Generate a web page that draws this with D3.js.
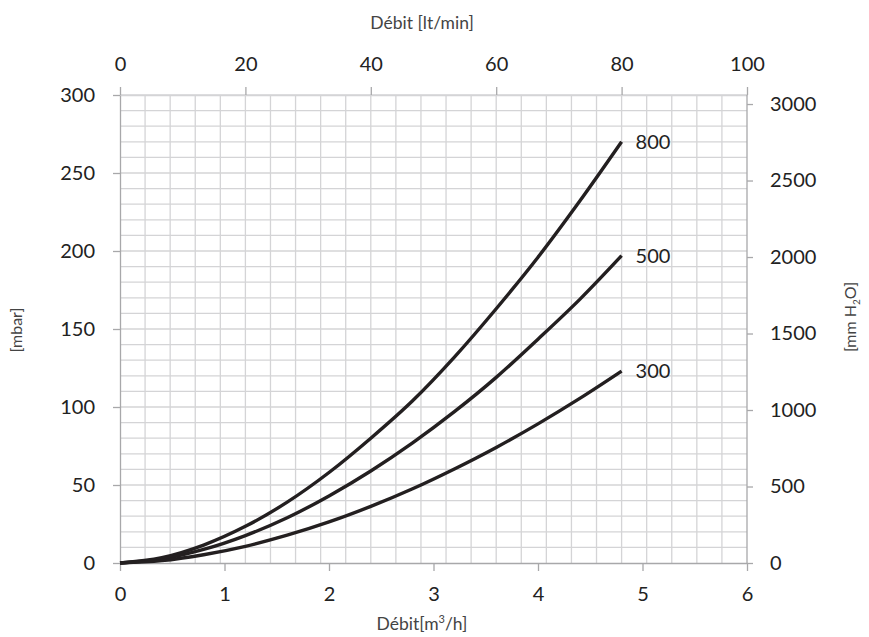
<!DOCTYPE html>
<html>
<head>
<meta charset="utf-8">
<script src="https://cdn.jsdelivr.net/npm/d3@7"></script>
<style>
  html, body { margin: 0; padding: 0; background: #fff; }
  svg { display: block; }
  text { font-family: Lato, "Open Sans", sans-serif; }
</style>
</head>
<body>
<svg id="chart" width="869" height="637"></svg>
<script>
// ---- Data ----
const flowM3h = [0, 0.4, 0.8, 1.2, 1.6, 2.0, 2.4, 2.8, 3.2, 3.6, 4.0, 4.4, 4.8];
const series800 = [0, 3.4, 11.5, 23.5, 39, 58, 80, 104, 132, 163, 196, 232, 270];
const series500 = [0, 2.6, 8.7, 17.6, 29, 43, 59, 77, 97, 119, 143.5, 169, 197];
const series300 = [0, 1.5, 5.3, 10.7, 17.8, 26.3, 36.3, 47.6, 60.3, 74.1, 89.2, 105.5, 123];
const seriesNames = ["800", "500", "300"];
const bottomTicks = [0, 1, 2, 3, 4, 5, 6];
const topTicks = [0, 20, 40, 60, 80, 100];
const leftTicks = [0, 50, 100, 150, 200, 250, 300];
const rightTicks = [0, 500, 1000, 1500, 2000, 2500, 3000];

const seriesList = [series800, series500, series300];

const svg = d3.select("#chart");
const L = 120, R = 747, T = 95, B = 563;

const x = d3.scaleLinear().domain([0, 6]).range([L, R]);
const xTop = d3.scaleLinear().domain([0, 100]).range([L, R]);
const y = d3.scaleLinear().domain([0, 300]).range([B, T]);
const yR = d3.scaleLinear().domain([0, 3059]).range([B, T]);

const gridColor = "#d4d4d6";
const axisColor = "#a8a8aa";
const tickText = "#222";
const fmt = d3.format("d");

// Grid
const grid = svg.append("g");
grid.selectAll("line.v").data(d3.range(4, 100, 4)).join("line")
  .attr("x1", d => xTop(d)).attr("x2", d => xTop(d))
  .attr("y1", T).attr("y2", B)
  .attr("stroke", gridColor).attr("stroke-width", 1.3);
grid.selectAll("line.h").data(d3.range(10, 301, 10)).join("line")
  .attr("x1", L).attr("x2", R)
  .attr("y1", d => y(d)).attr("y2", d => y(d))
  .attr("stroke", gridColor).attr("stroke-width", 1.3);

function styleAxis(g) {
  g.selectAll("path.domain").attr("stroke", axisColor).attr("stroke-width", 1.3);
  g.selectAll(".tick line").attr("stroke", axisColor).attr("stroke-width", 1.3);
  g.selectAll(".tick text").attr("fill", tickText).attr("font-size", 20)
    .attr("font-family", "Lato, 'Open Sans', sans-serif");
}

svg.append("g").attr("transform", `translate(0,${B})`)
  .call(d3.axisBottom(x).tickValues(bottomTicks).tickFormat(fmt).tickSize(8).tickSizeOuter(0).tickPadding(16))
  .call(styleAxis);
svg.append("g").attr("transform", `translate(0,${T})`)
  .call(d3.axisTop(xTop).tickValues(topTicks).tickFormat(fmt).tickSize(8).tickSizeOuter(0).tickPadding(16))
  .call(styleAxis)
  .call(g => g.select("path.domain").attr("stroke", gridColor));
svg.append("g").attr("transform", `translate(${L},0)`)
  .call(d3.axisLeft(y).tickValues(leftTicks).tickFormat(fmt).tickSize(7).tickSizeOuter(0).tickPadding(18))
  .call(styleAxis);
svg.append("g").attr("transform", `translate(${R},0)`)
  .call(d3.axisRight(yR).tickValues(rightTicks).tickFormat(fmt).tickSize(6).tickSizeOuter(0).tickPadding(17))
  .call(styleAxis)
  .call(g => g.select("path.domain").attr("d", `M0,${B}V${T}`));

// Curves
const line = d3.line().x(d => x(d[0])).y(d => y(d[1])).curve(d3.curveMonotoneX);
seriesList.forEach((s, i) => {
  const pts = flowM3h.map((f, j) => [f, s[j]]);
  svg.append("path").datum(pts)
    .attr("d", line)
    .attr("fill", "none")
    .attr("stroke", "#231f20")
    .attr("stroke-width", 3.4)
    .attr("stroke-linecap", "butt");
  const last = pts[pts.length - 1];
  svg.append("text")
    .attr("x", x(last[0]) + 14).attr("y", y(last[1]))
    .attr("dy", "0.36em")
    .attr("fill", tickText).attr("font-size", 20)
    .text(seriesNames[i]);
});

// Titles
const titleColor = "#444";
svg.append("text").attr("x", 422).attr("y", 29).attr("text-anchor", "middle")
  .attr("fill", titleColor).attr("font-size", 17.5)
  .text("Débit [lt/min]");

const bt = svg.append("text").attr("x", 422).attr("y", 630).attr("text-anchor", "middle")
  .attr("fill", titleColor).attr("font-size", 17.5);
bt.append("tspan").text("Débit[m");
bt.append("tspan").attr("dy", -7).attr("font-size", 11).text("3");
bt.append("tspan").attr("dy", 7).text("/h]");

svg.append("text").attr("transform", "translate(22,330) rotate(-90)")
  .attr("text-anchor", "middle").attr("fill", titleColor)
  .attr("font-size", 16).text("[mbar]");

const rt = svg.append("text").attr("transform", "translate(856,317) rotate(-90)")
  .attr("text-anchor", "middle").attr("fill", titleColor)
  .attr("font-size", 16);
rt.append("tspan").text("[mm H");
rt.append("tspan").attr("dy", 4).attr("font-size", 10).text("2");
rt.append("tspan").attr("dy", -4).text("O]");
</script>
</body>
</html>
